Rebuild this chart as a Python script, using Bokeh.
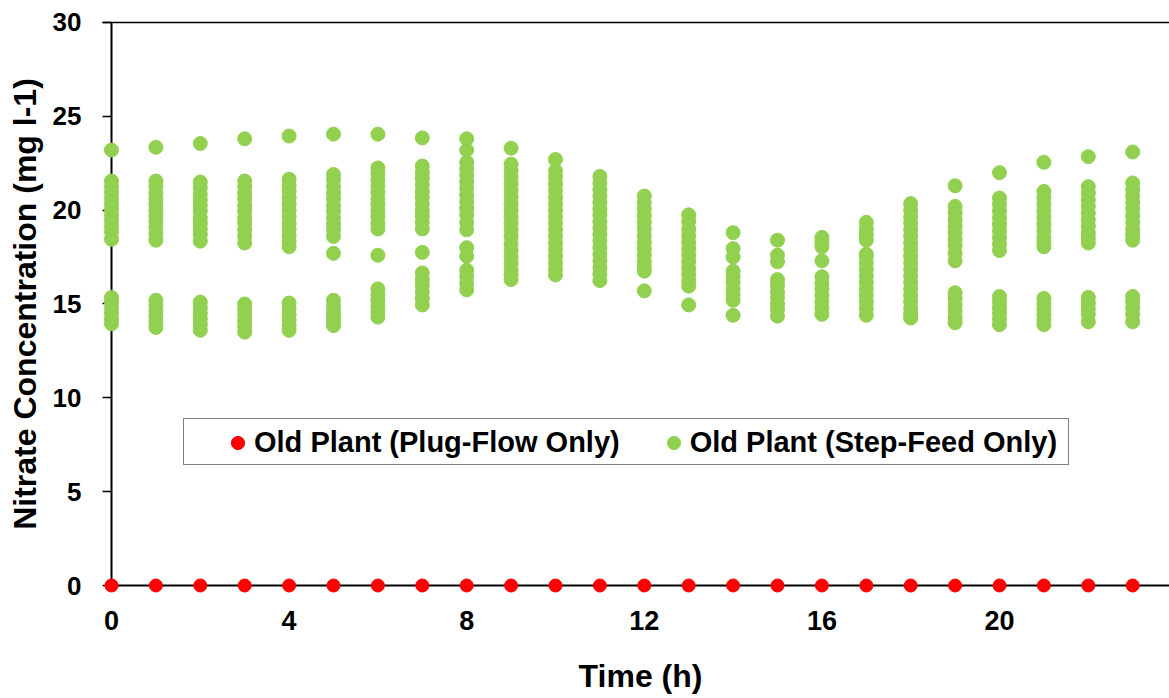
from bokeh.plotting import figure
from bokeh.models import Legend, LegendItem, FixedTicker, LinearAxis
from bokeh.embed import file_html
from bokeh.resources import INLINE

# ---------------- data ----------------
hours = [0, 1, 2, 3, 4, 5, 6, 7, 8, 9, 10, 11, 12, 13, 14, 15, 16, 17, 18, 19, 20, 21, 22, 23]
plug_flow = [0, 0, 0, 0, 0, 0, 0, 0, 0, 0, 0, 0, 0, 0, 0, 0, 0, 0, 0, 0, 0, 0, 0, 0]

sf_h00 = [23.2, 21.55, 21.25, 20.95, 20.65, 20.35, 20.05, 19.75, 19.45, 19.15, 18.85, 18.45, 15.35, 15.1, 14.8, 14.5, 14.2, 13.95]
sf_h01 = [23.35, 21.55, 21.25, 20.9, 20.6, 20.3, 20.0, 19.7, 19.4, 19.1, 18.75, 18.4, 15.2, 14.95, 14.65, 14.35, 14.05, 13.75]
sf_h02 = [23.55, 21.5, 21.2, 20.85, 20.55, 20.25, 19.95, 19.6, 19.3, 19.0, 18.7, 18.35, 15.1, 14.8, 14.5, 14.2, 13.9, 13.6]
sf_h03 = [23.8, 21.55, 21.25, 20.9, 20.6, 20.25, 19.95, 19.6, 19.3, 18.95, 18.6, 18.25, 15.0, 14.7, 14.4, 14.1, 13.8, 13.5]
sf_h04 = [23.95, 21.65, 21.3, 21.0, 20.65, 20.3, 20.0, 19.65, 19.3, 19.0, 18.65, 18.35, 18.05, 15.05, 14.75, 14.45, 14.15, 13.85, 13.6]
sf_h05 = [24.05, 21.9, 21.6, 21.25, 20.9, 20.6, 20.25, 19.95, 19.6, 19.25, 18.95, 18.6, 17.7, 15.2, 14.9, 14.6, 14.35, 14.1, 13.85]
sf_h06 = [24.05, 22.25, 21.95, 21.6, 21.3, 20.95, 20.6, 20.3, 19.95, 19.65, 19.3, 19.0, 17.6, 15.8, 15.5, 15.2, 14.9, 14.6, 14.3]
sf_h07 = [23.85, 22.35, 22.0, 21.7, 21.35, 21.0, 20.7, 20.35, 20.0, 19.7, 19.35, 19.0, 17.75, 16.65, 16.3, 16.0, 15.65, 15.3, 14.95]
sf_h08 = [23.8, 23.2, 22.55, 22.2, 21.85, 21.5, 21.15, 20.8, 20.45, 20.1, 19.75, 19.35, 18.95, 18.0, 17.55, 16.8, 16.45, 16.1, 15.75]
sf_h09 = [23.3, 22.45, 22.1, 21.75, 21.4, 21.05, 20.7, 20.35, 20.0, 19.65, 19.3, 18.95, 18.6, 18.2, 17.85, 17.5, 17.15, 16.8, 16.55, 16.3]
sf_h10 = [22.7, 22.1, 21.75, 21.4, 21.05, 20.7, 20.35, 20.0, 19.65, 19.3, 18.95, 18.6, 18.25, 17.9, 17.55, 17.2, 16.85, 16.55]
sf_h11 = [21.8, 21.45, 21.1, 20.75, 20.4, 20.05, 19.75, 19.4, 19.05, 18.7, 18.35, 18.0, 17.65, 17.3, 16.95, 16.6, 16.25]
sf_h12 = [20.75, 20.4, 20.05, 19.7, 19.35, 19.0, 18.65, 18.3, 17.95, 17.6, 17.25, 16.95, 16.75, 15.7]
sf_h13 = [19.75, 19.4, 19.0, 18.65, 18.3, 17.95, 17.6, 17.25, 16.9, 16.6, 16.25, 15.95, 14.95]
sf_h14 = [18.8, 17.95, 17.5, 16.75, 16.45, 16.15, 15.8, 15.5, 15.2, 14.4]
sf_h15 = [18.4, 17.6, 17.25, 16.3, 16.0, 15.65, 15.35, 15.0, 14.7, 14.35]
sf_h16 = [18.55, 18.3, 18.05, 17.3, 16.45, 16.1, 15.8, 15.45, 15.1, 14.8, 14.45]
sf_h17 = [19.35, 19.0, 18.7, 18.4, 17.65, 17.55, 17.2, 16.85, 16.5, 16.15, 15.8, 15.45, 15.1, 14.75, 14.4]
sf_h18 = [20.35, 20.0, 19.65, 19.3, 18.95, 18.6, 18.25, 17.9, 17.55, 17.2, 16.85, 16.5, 16.15, 15.8, 15.45, 15.1, 14.75, 14.45, 14.25]
sf_h19 = [21.3, 20.2, 19.85, 19.5, 19.15, 18.8, 18.45, 18.1, 17.7, 17.3, 15.6, 15.3, 14.95, 14.65, 14.3, 14.0]
sf_h20 = [22.0, 20.65, 20.3, 19.95, 19.6, 19.25, 18.9, 18.55, 18.2, 17.85, 15.4, 15.1, 14.8, 14.5, 14.2, 13.9]
sf_h21 = [22.55, 21.0, 20.65, 20.3, 19.95, 19.6, 19.25, 18.9, 18.55, 18.3, 18.05, 15.3, 15.0, 14.75, 14.45, 14.15, 13.9]
sf_h22 = [22.85, 21.25, 20.9, 20.55, 20.2, 19.85, 19.5, 19.15, 18.8, 18.5, 18.25, 15.35, 15.05, 14.75, 14.45, 14.05]
sf_h23 = [23.1, 21.45, 21.1, 20.75, 20.4, 20.05, 19.7, 19.35, 19.0, 18.7, 18.4, 15.4, 15.1, 14.8, 14.45, 14.05]

step_feed = [sf_h00, sf_h01, sf_h02, sf_h03, sf_h04, sf_h05, sf_h06, sf_h07, sf_h08, sf_h09,
             sf_h10, sf_h11, sf_h12, sf_h13, sf_h14, sf_h15, sf_h16, sf_h17, sf_h18, sf_h19,
             sf_h20, sf_h21, sf_h22, sf_h23]

x_ticks = [0, 4, 8, 12, 16, 20]
y_ticks = [0, 5, 10, 15, 20, 25, 30]
label_pf = "Old Plant (Plug-Flow Only)"
label_sf = "Old Plant (Step-Feed Only)"
x_title = "Time (h)"
y_title = "Nitrate Concentration (mg l-1)"

sf_x, sf_y = [], []
for h, vals in zip(hours, step_feed):
    sf_x += [h] * len(vals)
    sf_y += vals

FONT = "Liberation Sans"
W, H = 1169, 698
KX = 44.4      # px per hour
KY = 18.767    # px per mg/l
X0_PX, Y0_PX = 111, 585
x_start = -X0_PX / KX
x_end = (W - X0_PX) / KX
y_start = -(H - Y0_PX) / KY
y_end = 30 + (Y0_PX - 30 * KY) / KY

p = figure(width=W, height=H, x_range=(x_start, x_end), y_range=(y_start, y_end),
           output_backend="svg", toolbar_location=None,
           min_border_left=0, min_border_right=0, min_border_top=0, min_border_bottom=0)
p.outline_line_color = None
p.xgrid.visible = False
p.ygrid.visible = False
p.background_fill_color = "white"
p.border_fill_color = "white"

# x axis (crosses at y = 0)
xa = p.xaxis[0]
xa.fixed_location = 0
xa.ticker = FixedTicker(ticks=x_ticks)
xa.bounds = (0, 24.4)
xa.axis_line_width = 2
xa.axis_line_color = "black"
xa.major_tick_out = 4
xa.major_tick_in = 0
xa.major_tick_line_width = 1.5
xa.minor_tick_line_color = None
xa.major_label_standoff = 21
xa.major_label_text_font = FONT
xa.major_label_text_font_size = "27px"
xa.major_label_text_font_style = "bold"
xa.major_label_text_color = "black"
xa.axis_label = x_title
xa.axis_label_text_font = FONT
xa.axis_label_text_font_size = "32px"
xa.axis_label_text_font_style = "bold"
xa.axis_label_text_color = "black"
xa.axis_label_standoff = 25

# y axis (crosses at x = 0)
ya = p.yaxis[0]
ya.fixed_location = 0
ya.ticker = FixedTicker(ticks=y_ticks)
ya.bounds = (0, 30)
ya.axis_line_width = 2
ya.axis_line_color = "black"
ya.major_tick_out = 9
ya.major_tick_in = 0
ya.major_tick_line_width = 1.5
ya.minor_tick_line_color = None
ya.major_label_standoff = 21
ya.major_label_text_font = FONT
ya.major_label_text_font_size = "26px"
ya.major_label_text_font_style = "bold"
ya.major_label_text_color = "black"
ya.axis_label = y_title
ya.axis_label_text_font = FONT
ya.axis_label_text_font_size = "32px"
ya.axis_label_text_font_style = "bold"
ya.axis_label_text_color = "black"
ya.axis_label_standoff = 7

# top border of the plot area (a bare axis line at y = 30)
top = LinearAxis(fixed_location=30, ticker=FixedTicker(ticks=[]), bounds=(-0.2, 24.4),
                 axis_line_width=1.5, axis_line_color="black",
                 major_tick_line_color=None, minor_tick_line_color=None,
                 major_label_text_font_size="0px")
p.add_layout(top, "above")

r_pf = p.scatter(hours, plug_flow, size=13, marker="circle", fill_color="#FF0000",
                 line_color="#FF0000", level="overlay")
r_sf = p.scatter(sf_x, sf_y, size=14, marker="circle", fill_color="#92D050",
                 line_color="#92D050", level="overlay")
r_blank = p.scatter(x=[], y=[], size=0, fill_alpha=0, line_alpha=0)

# legend frame (border only)
legend_box = Legend(items=[LegendItem(label=" ", renderers=[r_blank])],
                    location=(183, H - 465), padding=0, margin=0,
                    glyph_width=0, glyph_height=45, label_standoff=0,
                    label_width=884, label_height=45,
                    border_line_color="black", border_line_width=1.5,
                    background_fill_color="white", background_fill_alpha=1.0,
                    label_text_font_size="1px")
p.add_layout(legend_box)

legend = Legend(items=[LegendItem(label=label_pf, renderers=[r_pf]),
                       LegendItem(label=label_sf, renderers=[r_sf])],
                orientation="horizontal", location=(221, H - 460),
                glyph_width=33, glyph_height=35, label_height=35, label_standoff=0,
                spacing=37, padding=0, margin=0,
                border_line_color=None, background_fill_alpha=0.0,
                label_text_font=FONT, label_text_font_size="29px",
                label_text_font_style="bold", label_text_color="black")
p.add_layout(legend)

open("out.html", "w").write(file_html(p, INLINE))
